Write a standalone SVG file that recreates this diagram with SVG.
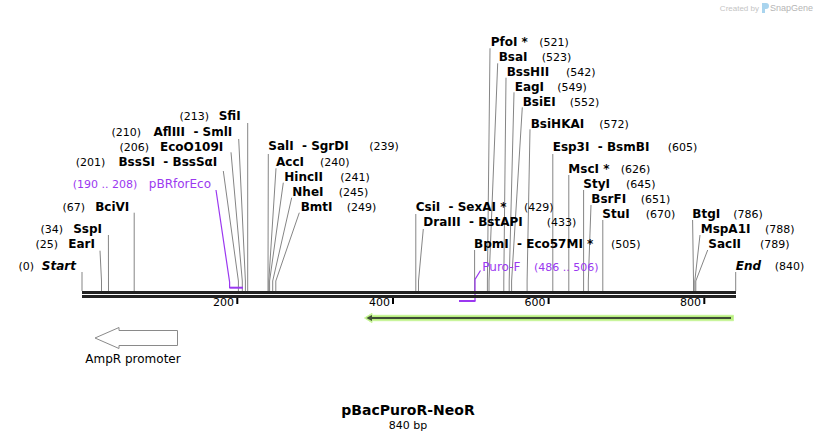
<svg xmlns="http://www.w3.org/2000/svg" width="818" height="441" viewBox="0 0 818 441">
<style>
text{white-space:pre}
.n{font:bold 12px "DejaVu Sans",Verdana,sans-serif;fill:#000}
.ni{font:italic bold 12px "DejaVu Sans",Verdana,sans-serif;fill:#000}
.p{font:11px "DejaVu Sans",Verdana,sans-serif;fill:#000}
.pu{font:12px "DejaVu Sans",Verdana,sans-serif;fill:#9b38f0}
.pun{font:11px "DejaVu Sans",Verdana,sans-serif;fill:#9b38f0}
.e{text-anchor:end}
.ln{stroke:#858585;stroke-width:1;fill:none}
.pl{stroke:#9b38f0;stroke-width:1.2;fill:none}
.bb{fill:#222}
.tk{stroke:#000;stroke-width:2}
</style>
<rect width="818" height="441" fill="#fff"/>

<g id="watermark">
<text x="759" y="11" text-anchor="end" style="font:8px 'Liberation Sans',Arial,sans-serif;fill:#c4c4c4">Created by</text>
<path d="M762 3h4a3 3 0 0 1 0 6h-1v4h-3z" fill="#a9d4ee"/>
<text x="770" y="11" style="font:9px 'Liberation Sans',Arial,sans-serif;fill:#b5b5b5">SnapGene</text>
</g>

<g id="connectors">
<polyline class="ln" points="82,272 82,291"/>
<polyline class="ln" points="100,250.7 101.5,281 101.5,291"/>
<polyline class="ln" points="108.4,235 108.5,291"/>
<polyline class="ln" points="134.2,212.7 134.2,291"/>
<polyline class="ln" points="223.3,171 238.4,281 238.4,291"/>
<polyline class="ln" points="231,152.3 242.3,281 242.3,291"/>
<polyline class="ln" points="238.7,139 245.4,281 245.4,291"/>
<polyline class="ln" points="247.7,123 247.7,291"/>
<polyline class="ln" points="268.3,154 268,281 268,291"/>
<polyline class="ln" points="276,168.3 268.8,281 268.8,291"/>
<polyline class="ln" points="283.3,182.7 269.6,281 269.6,291"/>
<polyline class="ln" points="291.7,197.7 272.7,281 272.7,291"/>
<polyline class="ln" points="299.3,212.7 275.8,281 275.8,291"/>
<polyline class="ln" points="415.8,214 415.8,291"/>
<polyline class="ln" points="423.3,229 418.5,281 418.5,291"/>
<polyline class="ln" points="474.6,250 474.6,291"/>
<polyline class="ln" points="490,48.3 487.4,281 487.4,291"/>
<polyline class="ln" points="497.7,63.3 489,281 489,291"/>
<polyline class="ln" points="506,77.7 503.8,281 503.8,291"/>
<polyline class="ln" points="514,92.3 509.2,281 509.2,291"/>
<polyline class="ln" points="522.3,107.3 511.6,281 511.6,291"/>
<polyline class="ln" points="530,129.3 527.1,281 527.1,291"/>
<polyline class="ln" points="552.8,154 552.8,291"/>
<polyline class="ln" points="568.8,175 568.8,291"/>
<polyline class="ln" points="583.6,190 583.6,291"/>
<polyline class="ln" points="591,205 588.3,281 588.3,291"/>
<polyline class="ln" points="602.8,220 602.8,291"/>
<polyline class="ln" points="692.6,220 693.5,281 693.5,291"/>
<polyline class="ln" points="700,235 694.8,281 694.8,291"/>
<polyline class="ln" points="707.7,250 695.8,281 695.8,291"/>
<polyline class="ln" points="735.7,272 735.7,291"/>
<polyline class="pl" points="216,190 229.6,282 229.6,288"/>
<polyline class="pl" points="480.5,270.5 475,279.5 475,301"/>
</g>

<g id="backbone">
<rect class="bb" x="82" y="291" width="654" height="3"/>
<rect class="bb" x="82" y="295" width="654" height="3"/>
<line class="tk" x1="237.3" y1="298" x2="237.3" y2="304"/>
<line class="tk" x1="393" y1="298" x2="393" y2="304"/>
<line class="tk" x1="548.6" y1="298" x2="548.6" y2="304"/>
<line class="tk" x1="704.3" y1="298" x2="704.3" y2="304"/>
<text class="p e" x="234" y="306">200</text>
<text class="p e" x="390" y="306">400</text>
<text class="p e" x="545.5" y="306">600</text>
<text class="p e" x="701" y="306">800</text>
</g>

<g id="feat-pbrforeco">
<rect x="229.4" y="286.7" width="13.6" height="2" fill="#9b38f0"/>
<text class="pun e" x="137.3" y="187.5">(190 .. 208)</text>
<text class="pu e" x="211" y="187.5">pBRforEco</text>
</g>

<g id="feat-purof">
<rect x="459" y="300" width="16.5" height="2" fill="#9b38f0"/>
<text class="pu" x="482.3" y="270.5">Puro-F</text>
<text class="pun" x="534" y="270.5">(486 .. 506)</text>
</g>

<g id="feat-green">
<path d="M364.5 318 L372 313.3 L372 315.3 L733.5 315.3 L733.5 320.7 L372 320.7 L372 322.7 Z" fill="#b9ef80" stroke="#c9f59c" stroke-width="1"/>
<line x1="370" y1="318" x2="731" y2="318" stroke="#3f4c36" stroke-width="2.2"/>
<path d="M366.5 318 L372 315 L372 321 Z" fill="#3f4c36"/>
</g>

<g id="feat-ampr-promoter">
<path d="M95 338 L119 327.5 L119 330.5 L177.5 330.5 L177.5 345.5 L119 345.5 L119 348.5 Z" fill="#fff" stroke="#8a8a8a" stroke-width="1"/>
<text x="133" y="363" text-anchor="middle" style="font:12px 'DejaVu Sans',Verdana,sans-serif;fill:#000">AmpR promoter</text>
</g>

<g id="site-start"><text class="p e" x="34" y="270">(0)</text><text class="ni e" x="76" y="270">Start</text></g>
<g id="site-eari"><text class="p e" x="58" y="247.5">(25)</text><text class="n e" x="95" y="247.5">EarI</text></g>
<g id="site-sspi"><text class="p e" x="63" y="232.5">(34)</text><text class="n e" x="102" y="232.5">SspI</text></g>
<g id="site-bcivi"><text class="p e" x="85" y="210.5">(67)</text><text class="n e" x="129.3" y="210.5">BciVI</text></g>
<g id="site-bsssi"><text class="p e" x="105.3" y="165.5">(201)</text><text class="n e" x="217.3" y="165.5">BssSI  - BssSαI</text></g>
<g id="site-ecoo109i"><text class="p e" x="149" y="150.5">(206)</text><text class="n e" x="223.3" y="150.5">EcoO109I</text></g>
<g id="site-afliii"><text class="p e" x="141" y="135.5">(210)</text><text class="n e" x="232.3" y="135.5">AflIII  - SmlI</text></g>
<g id="site-sfii"><text class="p e" x="209" y="120">(213)</text><text class="n e" x="240.7" y="120">SfiI</text></g>

<g id="site-sali"><text class="n" x="268.3" y="150">SalI  - SgrDI</text><text class="p" x="369.3" y="150">(239)</text></g>
<g id="site-acci"><text class="n" x="276" y="165.5">AccI</text><text class="p" x="320" y="165.5">(240)</text></g>
<g id="site-hincii"><text class="n" x="284.3" y="180.5">HincII</text><text class="p" x="340.3" y="180.5">(241)</text></g>
<g id="site-nhei"><text class="n" x="292.3" y="195.5">NheI</text><text class="p" x="338.7" y="195.5">(245)</text></g>
<g id="site-bmti"><text class="n" x="300.7" y="210.5">BmtI</text><text class="p" x="346.7" y="210.5">(249)</text></g>

<g id="site-csii"><text class="n" x="415.7" y="210.5">CsiI  - SexAI *</text><text class="p" x="524" y="210.5">(429)</text></g>
<g id="site-draiii"><text class="n" x="423.3" y="225.5">DraIII  - BstAPI</text><text class="p" x="546.7" y="225.5">(433)</text></g>
<g id="site-bpmi"><text class="n" x="474" y="247.5">BpmI  - Eco57MI *</text><text class="p" x="611" y="247.5">(505)</text></g>

<g id="site-pfoi"><text class="n" x="490.7" y="46">PfoI *</text><text class="p" x="539.3" y="46">(521)</text></g>
<g id="site-bsai"><text class="n" x="498.7" y="61">BsaI</text><text class="p" x="541.7" y="61">(523)</text></g>
<g id="site-bsshii"><text class="n" x="506.7" y="76">BssHII</text><text class="p" x="566" y="76">(542)</text></g>
<g id="site-eagi"><text class="n" x="514.7" y="91">EagI</text><text class="p" x="557.3" y="91">(549)</text></g>
<g id="site-bsiei"><text class="n" x="522.7" y="106">BsiEI</text><text class="p" x="569.7" y="106">(552)</text></g>
<g id="site-bsihkai"><text class="n" x="530.7" y="128">BsiHKAI</text><text class="p" x="599.3" y="128">(572)</text></g>
<g id="site-esp3i"><text class="n" x="552.7" y="150.5">Esp3I  - BsmBI</text><text class="p" x="667.7" y="150.5">(605)</text></g>
<g id="site-msci"><text class="n" x="568.3" y="172.5">MscI *</text><text class="p" x="620.7" y="172.5">(626)</text></g>
<g id="site-styi"><text class="n" x="583.3" y="187.5">StyI</text><text class="p" x="626" y="187.5">(645)</text></g>
<g id="site-bsrfi"><text class="n" x="591.3" y="202.5">BsrFI</text><text class="p" x="640.7" y="202.5">(651)</text></g>
<g id="site-stui"><text class="n" x="602.3" y="217.5">StuI</text><text class="p" x="645.7" y="217.5">(670)</text></g>
<g id="site-btgi"><text class="n" x="692.3" y="217.5">BtgI</text><text class="p" x="733.3" y="217.5">(786)</text></g>
<g id="site-mspa1i"><text class="n" x="700.7" y="232.5">MspA1I</text><text class="p" x="765" y="232.5">(788)</text></g>
<g id="site-sacii"><text class="n" x="708.3" y="247.5">SacII</text><text class="p" x="760" y="247.5">(789)</text></g>
<g id="site-end"><text class="ni" x="735.7" y="270">End</text><text class="p" x="774.7" y="270">(840)</text></g>

<g id="title">
<text x="408" y="415" text-anchor="middle" style="font:bold 14px 'DejaVu Sans',Verdana,sans-serif;fill:#000">pBacPuroR-NeoR</text>
<text x="408" y="429" text-anchor="middle" style="font:11px 'DejaVu Sans',Verdana,sans-serif;fill:#000">840 bp</text>
</g>
</svg>
